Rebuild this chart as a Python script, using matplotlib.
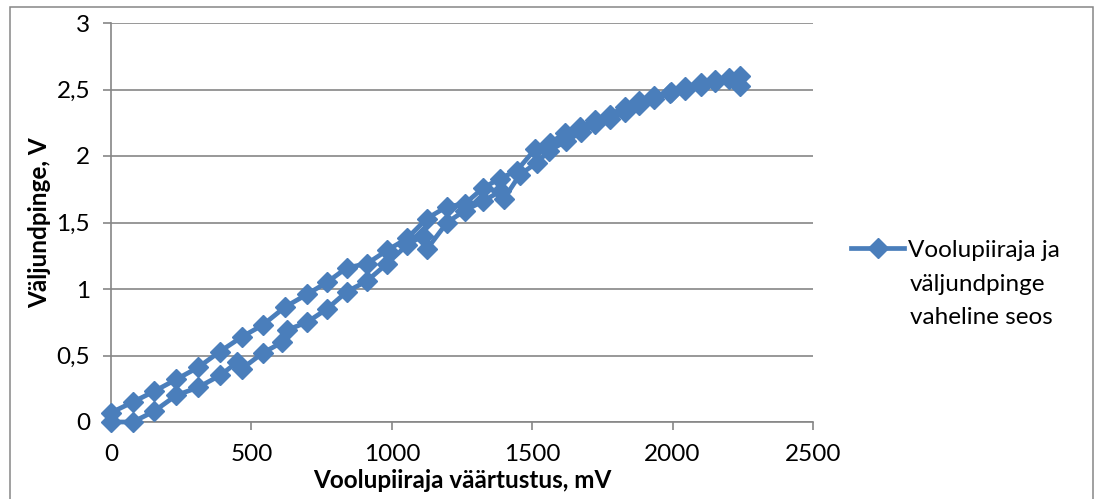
import matplotlib
matplotlib.use("Agg")
import matplotlib.pyplot as plt
from matplotlib.lines import Line2D
from matplotlib.patches import Rectangle
from matplotlib.ticker import FuncFormatter

# rising branch (lower curve)
x_up = [0, 78, 153, 232, 310, 388, 450, 466, 541, 610, 625, 698, 769, 840, 911,
        983, 1054, 1110, 1125, 1197, 1260, 1325, 1390, 1400, 1456, 1517, 1560,
        1620, 1675, 1724, 1777, 1830, 1880, 1935, 1990, 2045, 2100, 2150, 2200, 2240]
y_up = [0.0, 0.0, 0.08, 0.20, 0.26, 0.35, 0.45, 0.40, 0.52, 0.60, 0.69, 0.75, 0.85,
        0.98, 1.06, 1.19, 1.33, 1.40, 1.30, 1.50, 1.59, 1.66, 1.74, 1.68, 1.86,
        1.95, 2.04, 2.11, 2.18, 2.24, 2.28, 2.33, 2.38, 2.43, 2.47, 2.50, 2.53,
        2.56, 2.58, 2.53]

# falling branch (upper curve)
x_down = [2240, 2200, 2150, 2100, 2045, 1995, 1935, 1880, 1830, 1777, 1724, 1670,
          1617, 1563, 1510, 1445, 1385, 1325, 1260, 1197, 1125, 1054, 983, 911,
          840, 769, 698, 620, 541, 466, 388, 310, 232, 153, 78, 0]
y_down = [2.60, 2.59, 2.57, 2.55, 2.52, 2.48, 2.45, 2.41, 2.37, 2.31, 2.27, 2.22,
          2.17, 2.10, 2.05, 1.89, 1.83, 1.76, 1.64, 1.62, 1.53, 1.38, 1.29, 1.19,
          1.16, 1.05, 0.96, 0.865, 0.73, 0.64, 0.53, 0.41, 0.32, 0.23, 0.15, 0.07]

x_vals = x_up + x_down
y_vals = y_up + y_down

label_lines = ["Voolupiiraja ja", "väljundpinge", "vaheline seos"]
x_ticks = [0, 500, 1000, 1500, 2000, 2500]
y_ticks = [0, 0.5, 1, 1.5, 2, 2.5, 3]

BLUE = "#4A7EBB"
GREY = "#868686"
FS = 17.5

plt.rcParams["font.family"] = ["Lato", "DejaVu Sans"]

fig = plt.figure(figsize=(10.99, 4.99), dpi=100)
ax = fig.add_axes([111 / 1099, 1 - 422 / 499, (813 - 111) / 1099, (422 - 23) / 499])

ax.plot(x_vals, y_vals, color=BLUE, lw=3.4, marker="D", ms=10.5,
        mfc=BLUE, mec=BLUE, clip_on=False, zorder=3)

ax.set_xlim(0, 2500)
ax.set_ylim(0, 3)
ax.set_xticks(x_ticks)
ax.set_yticks(y_ticks)
ax.yaxis.set_major_formatter(FuncFormatter(lambda v, p: f"{v:g}".replace(".", ",")))
ax.grid(axis="y", color=GREY, lw=1.2)
ax.set_axisbelow(True)

for side in ["top", "right"]:
    ax.spines[side].set_visible(False)
for side in ["left", "bottom"]:
    ax.spines[side].set_color(GREY)
    ax.spines[side].set_linewidth(1.2)

ax.tick_params(axis="both", colors=GREY, length=6, width=1.2, labelsize=FS,
               labelcolor="black")
ax.tick_params(axis="y", pad=9)
ax.tick_params(axis="x", pad=10)

ax.set_xlabel("Voolupiiraja väärtustus, mV", fontsize=FS, fontweight="bold", labelpad=3)
ax.set_ylabel("Väljundpinge, V", fontsize=FS, fontweight="bold", labelpad=4)

# legend: handle sits beside the first line, the rest wraps below
handle = Line2D([], [], color=BLUE, lw=3.4, marker="D", ms=10.5, mfc=BLUE, mec=BLUE)
fig.legend([handle], [label_lines[0]], loc="center left",
           bbox_to_anchor=(851 / 1099, 1 - 250 / 499), frameon=False,
           fontsize=FS, handlelength=2.2, handletextpad=0.15,
           borderpad=0, borderaxespad=0)
fig.text(910 / 1099, 1 - 301 / 499, "\n".join(label_lines[1:]), fontsize=FS,
         ha="left", va="center", linespacing=1.7)

fig.patches.append(Rectangle((10 / 1099, -0.01), 1083 / 1099, 1 - 7 / 499 + 0.01,
                             transform=fig.transFigure, fill=False,
                             edgecolor=GREY, lw=1.1))

fig.savefig("out.png", dpi=100)
